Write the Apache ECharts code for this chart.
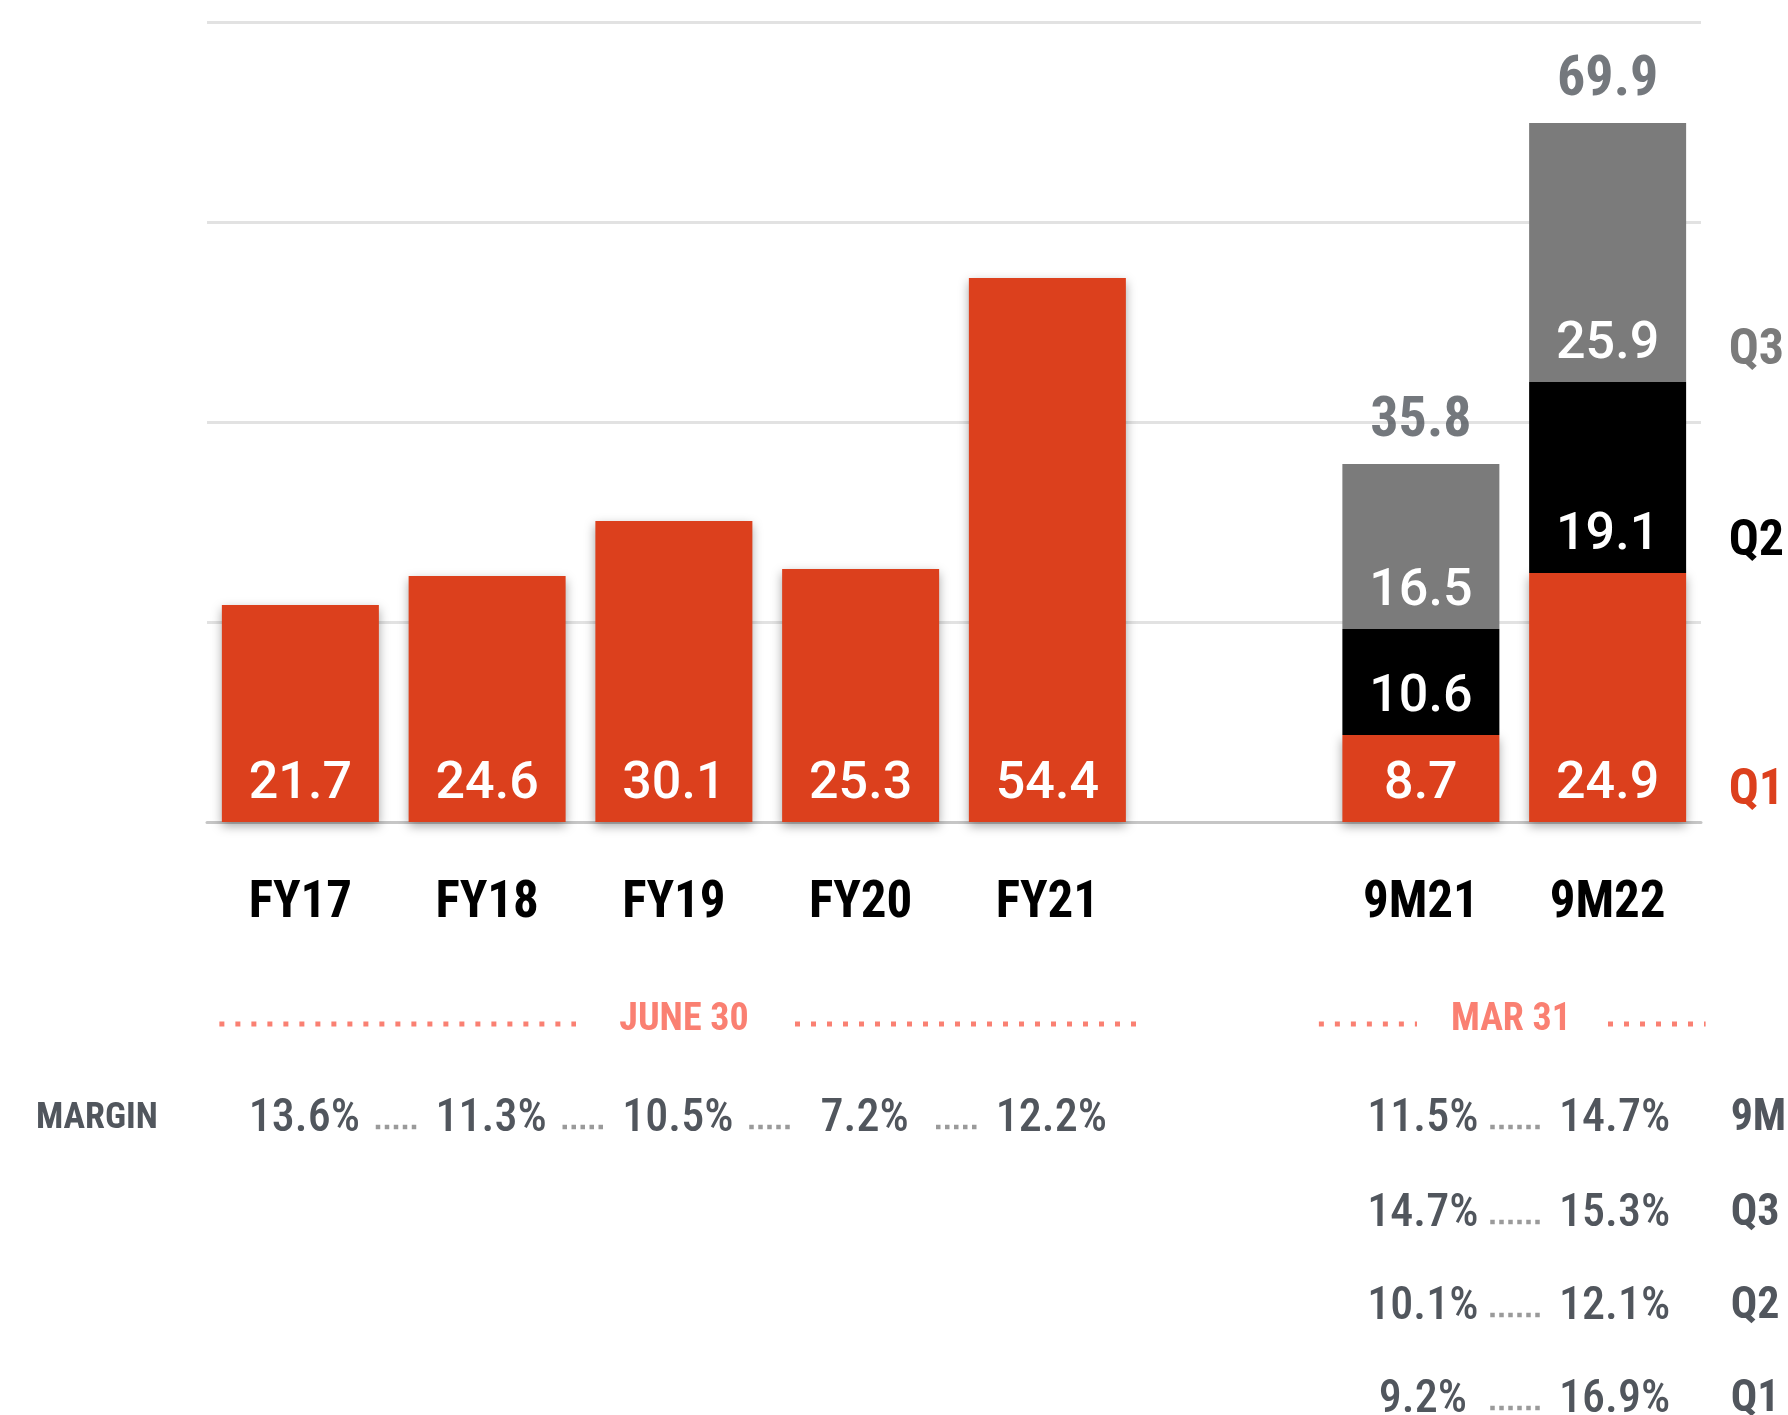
<!DOCTYPE html>
<html><head><meta charset="utf-8">
<script src="https://cdn.jsdelivr.net/npm/echarts@6/dist/echarts.min.js"></script>
<style>html,body{margin:0;padding:0;background:#fff}#c{width:1788px;height:1415px}</style>
</head><body><div id="c"></div>
<script>
const categories = ['FY17','FY18','FY19','FY20','FY21','','9M21','9M22'];
const q1Values = [21.7,24.6,30.1,25.3,54.4,null,8.7,24.9];
const q2Values = [null,null,null,null,null,null,10.6,19.1];
const q3Values = [null,null,null,null,null,null,16.5,25.9];
const totalValues = [null,null,null,null,null,null,35.8,69.9];
const yTicks = [0,20,40,60,80];
const fyMargins = ['13.6%','11.3%','10.5%','7.2%','12.2%'];
const rowLabels = ['9M','Q3','Q2','Q1'];
const margins9M21 = ['11.5%','14.7%','10.1%','9.2%'];
const margins9M22 = ['14.7%','15.3%','12.1%','16.9%'];
const legendLabels = ['Q1','Q2','Q3'];

const COND = '"Roboto Condensed","Open Sans Condensed",sans-serif';
const RED = '#DC401D', BLACK = '#000000', GRAY = '#7B7B7B', DARK = '#51565D', SALMON = '#FA8072', DOT = '#9A9A9A';

const chart = echarts.init(document.getElementById('c'), null, {renderer:'canvas'});

const segLabel = {
  show: true, position: 'insideBottom', distance: 11, color: '#fff',
  fontFamily: 'Roboto', fontWeight: 500, fontSize: 52, lineHeight: 52,
  formatter: p => p.value == null ? '' : p.value.toFixed(1)
};

const option = {
  animation: false,
  backgroundColor: '#fff',
  grid: {left: 207, right: 87, top: 22, bottom: 593, containLabel: false},
  xAxis: {
    type: 'category', data: categories,
    axisLine: {lineStyle: {color: '#C6C6C6', width: 3}},
    axisTick: {show: false},
    axisLabel: {margin: 57, color: '#000', fontFamily: COND, fontWeight: 'bold', fontSize: 51, lineHeight: 51}
  },
  yAxis: {
    type: 'value', min: yTicks[0], max: yTicks[yTicks.length-1], interval: yTicks[1]-yTicks[0],
    axisLabel: {show: false}, axisLine: {show: false}, axisTick: {show: false},
    splitLine: {lineStyle: {color: '#E2E2E2', width: 3}}
  },
  series: [
    {name: 'Q1', type: 'bar', stack: 's', data: q1Values, barWidth: 157,
     itemStyle: {color: RED, shadowBlur: 10, shadowOffsetY: 4, shadowColor: 'rgba(0,0,0,0.35)'},
     label: segLabel},
    {name: 'Q2', type: 'bar', stack: 's', data: q2Values, barWidth: 157,
     itemStyle: {color: BLACK}, label: segLabel},
    {name: 'Q3', type: 'bar', stack: 's', data: q3Values, barWidth: 157,
     itemStyle: {color: GRAY}, label: segLabel},
    {name: 'Total', type: 'scatter', data: totalValues, symbolSize: 1,
     itemStyle: {color: 'rgba(0,0,0,0)'}, z: 5,
     label: {show: true, position: 'top', distance: 14, color: DARK,
       fontFamily: COND, fontWeight: 'bold', fontSize: 56, lineHeight: 56,
       formatter: p => p.value == null ? '' : p.value.toFixed(1)}}
  ]
};
chart.setOption(option);

const px = i => chart.convertToPixel({xAxisIndex: 0}, i);
const py = v => chart.convertToPixel({yAxisIndex: 0}, v);
const g = [];
function txt(text, x, y, font, fill, align) {
  g.push({type: 'text', silent: true, style: {text, x, y, font, fill, textAlign: align || 'center', textVerticalAlign: 'middle'}});
}
function dots(x1, x2, y, color, w, dash) {
  g.push({type: 'line', silent: true, shape: {x1, y1: y, x2, y2: y}, style: {stroke: color, lineWidth: w, lineDash: dash}});
}

// Q legend labels aligned to 9M22 segments
const last = categories.length - 1;
const colors = [RED, BLACK, GRAY];
let base = 0;
const segs = [q1Values[last], q2Values[last], q3Values[last]];
legendLabels.forEach((l, k) => {
  txt(l, px(last) + 121, py(base) - 31, 'bold 50px ' + COND, colors[k], 'left');
  base += segs[k];
});

// Period headers
const yHead = 1020;
const hFont = 'bold 38px ' + COND;
txt('JUNE 30', 684, yHead, hFont, SALMON);
dots(px(0) - 81, 576, yHead + 4, SALMON, 5, [5, 11]);
dots(795, px(4) + 90, yHead + 4, SALMON, 5, [5, 11]);
txt('MAR 31', 1511, yHead, hFont, SALMON);
dots(px(6) - 102, 1417, yHead + 4, SALMON, 5, [5, 11]);
dots(1608, px(7) + 98, yHead + 4, SALMON, 5, [5, 11]);

// Margins
const rowY = [1119, 1214, 1307, 1400];
const mFont = '500 46px ' + COND;
txt('MARGIN', 36, rowY[0], 'bold 36px ' + COND, DARK, 'left');
fyMargins.forEach((m, i) => {
  txt(m, px(i) + 4, rowY[0], mFont, DARK);
  if (i < fyMargins.length - 1) {
    const mid = (px(i) + px(i + 1)) / 2 + 4;
    dots(mid - 22, mid + 22, rowY[0] + 8, DOT, 4.5, [4.5, 4.5]);
  }
});
rowLabels.forEach((r, k) => {
  txt(margins9M21[k], px(6) + 2, rowY[k], mFont, DARK);
  txt(margins9M22[k], px(7) + 7, rowY[k], mFont, DARK);
  const mid = (px(6) + px(7)) / 2 + 3;
  dots(mid - 27, mid + 27, rowY[k] + 8, DOT, 4.5, [4.5, 4.5]);
  txt(r, px(7) + 123, rowY[k], 'bold 44px ' + COND, DARK, 'left');
});
chart.setOption({graphic: {elements: g}});
</script></body></html>
